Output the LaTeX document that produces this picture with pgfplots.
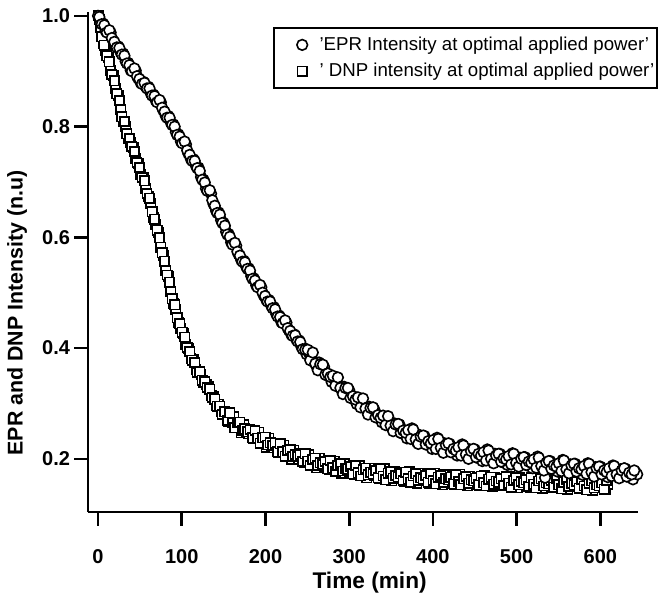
\documentclass[border=0pt]{standalone}
\usepackage{fontspec}
\setmainfont{Liberation Sans}
\usepackage{pgfplots}
\pgfplotsset{compat=1.18}
\begin{document}
\begin{tikzpicture}
\begin{axis}[
  at={(0,0)}, anchor=south west,
  scale only axis, width=412.5pt, height=375pt,
  xmin=-12, xmax=645, ymin=0.104, ymax=1.007,
  axis x line*=bottom, axis y line*=left,
  axis line style={line width=2pt,-},
  major tick length=-10.5pt,
  tick style={black,line width=2pt},
  xtick={0,100,200,300,400,500,600},
  ytick={0.2,0.4,0.6,0.8,1.0},
  yticklabel style={/pgf/number format/fixed, /pgf/number format/fixed zerofill, /pgf/number format/precision=1, xshift=-10pt},
  /pgf/number format/assume math mode=true,
  tick label style={font=\bfseries\fontsize{15}{15}\selectfont},
  xticklabel style={yshift=-24.5pt},
  xlabel={Time (min)},
  ylabel={EPR and DNP Intensity (n.u)},
  xlabel style={font=\bfseries\fontsize{17}{17}\selectfont, at={(axis description cs:0.512,-0.142)}, anchor=center},
  ylabel style={font=\bfseries\fontsize{16}{16}\selectfont, at={(axis description cs:-0.129,0.398)}, anchor=center},
  clip mode=individual,
  reverse legend,
  legend cell align=left,
  legend image code/.code={\path[draw=none] (-21pt,0pt) -- (11pt,0pt); \draw[#1] plot coordinates {(0pt,0pt)};},
  legend style={at={(axis description cs:1.036,0.97)}, anchor=north east, draw=black, line width=1.2pt,
    inner xsep=0pt, inner ysep=5pt,
    font=\fontsize{14}{16}\selectfont, row sep=4pt},
]
\addplot[only marks, mark=square*, mark size=3.5pt, mark options={fill=white, draw=black, line width=1.2pt}] coordinates {
(0,1.000)(3,0.979)(6,0.950)(9,0.937)(12,0.925)(15,0.902)(18,0.892)(21,0.868)(24,0.856)(27,0.831)(30,0.810)(33,0.801)(36,0.779)(39,0.771)(42,0.762)(45,0.742)(48,0.733)(51,0.713)(54,0.708)(57,0.689)(60,0.674)(63,0.661)(66,0.636)(69,0.623)(72,0.609)(75,0.582)(78,0.567)(81,0.540)(84,0.529)(87,0.503)(90,0.481)(93,0.469)(96,0.446)(99,0.436)(102,0.427)(105,0.407)(108,0.400)(111,0.382)(114,0.380)(117,0.362)(120,0.355)(123,0.352)(126,0.337)(129,0.334)(132,0.330)(135,0.315)(138,0.312)(141,0.297)(144,0.299)(147,0.285)(150,0.280)(153,0.284)(156,0.268)(159,0.277)(162,0.276)(165,0.257)(168,0.264)(171,0.247)(174,0.262)(177,0.250)(180,0.245)(183,0.252)(186,0.236)(189,0.243)(192,0.248)(195,0.230)(198,0.238)(201,0.221)(204,0.237)(207,0.224)(210,0.220)(213,0.228)(216,0.211)(219,0.219)(222,0.225)(225,0.207)(228,0.215)(231,0.199)(234,0.216)(237,0.204)(240,0.200)(243,0.209)(246,0.193)(249,0.202)(252,0.208)(255,0.191)(258,0.199)(261,0.184)(264,0.201)(267,0.190)(270,0.187)(273,0.196)(276,0.180)(279,0.189)(282,0.196)(285,0.180)(288,0.189)(291,0.174)(294,0.191)(297,0.180)(300,0.177)(303,0.186)(306,0.172)(309,0.181)(312,0.188)(315,0.171)(318,0.181)(321,0.166)(324,0.183)(327,0.173)(330,0.170)(333,0.179)(336,0.165)(339,0.174)(342,0.182)(345,0.165)(348,0.174)(351,0.160)(354,0.177)(357,0.167)(360,0.164)(363,0.174)(366,0.159)(369,0.169)(372,0.177)(375,0.161)(378,0.170)(381,0.156)(384,0.174)(387,0.163)(390,0.161)(393,0.171)(396,0.156)(399,0.166)(402,0.174)(405,0.158)(408,0.167)(411,0.153)(414,0.171)(417,0.161)(420,0.159)(423,0.168)(426,0.154)(429,0.164)(432,0.172)(435,0.155)(438,0.165)(441,0.151)(444,0.169)(447,0.159)(450,0.157)(453,0.166)(456,0.152)(459,0.162)(462,0.170)(465,0.154)(468,0.164)(471,0.150)(474,0.167)(477,0.157)(480,0.155)(483,0.165)(486,0.151)(489,0.161)(492,0.168)(495,0.152)(498,0.162)(501,0.148)(504,0.166)(507,0.156)(510,0.154)(513,0.163)(516,0.149)(519,0.159)(522,0.167)(525,0.151)(528,0.161)(531,0.147)(534,0.164)(537,0.154)(540,0.152)(543,0.162)(546,0.148)(549,0.158)(552,0.165)(555,0.149)(558,0.159)(561,0.145)(564,0.163)(567,0.153)(570,0.150)(573,0.160)(576,0.146)(579,0.156)(582,0.163)(585,0.147)(588,0.157)(591,0.143)(594,0.160)(597,0.150)(600,0.148)(603,0.158)(606,0.144)(609,0.154)
(1.5,0.993)(4.5,0.962)(7.5,0.947)(10.5,0.928)(13.5,0.917)(16.5,0.894)(19.5,0.883)(22.5,0.859)(25.5,0.847)(28.5,0.818)(31.5,0.809)(34.5,0.787)(37.5,0.778)(40.5,0.764)(43.5,0.755)(46.5,0.735)(49.5,0.726)(52.5,0.708)(55.5,0.702)(58.5,0.679)(61.5,0.671)(64.5,0.646)(67.5,0.633)(70.5,0.613)(73.5,0.599)(76.5,0.572)(79.5,0.557)(82.5,0.532)(85.5,0.519)(88.5,0.489)(91.5,0.478)(94.5,0.455)(97.5,0.444)(100.5,0.429)(103.5,0.420)(106.5,0.401)(109.5,0.394)(112.5,0.378)(115.5,0.374)(118.5,0.356)(121.5,0.357)(124.5,0.342)(127.5,0.339)(130.5,0.329)(133.5,0.326)(136.5,0.311)(139.5,0.308)(142.5,0.295)(145.5,0.295)(148.5,0.280)
(151.5,0.285)(154.5,0.270)(157.5,0.283)(160.5,0.265)(163.5,0.256)(166.5,0.265)(169.5,0.266)(172.5,0.251)(175.5,0.254)(178.5,0.249)(181.5,0.253)(184.5,0.238)(187.5,0.251)(190.5,0.237)(193.5,0.228)(196.5,0.238)(199.5,0.239)(202.5,0.225)(205.5,0.229)(208.5,0.224)(211.5,0.228)(214.5,0.213)(217.5,0.227)(220.5,0.213)(223.5,0.205)(226.5,0.215)(229.5,0.217)(232.5,0.204)(235.5,0.208)(238.5,0.204)(241.5,0.208)(244.5,0.195)(247.5,0.209)(250.5,0.196)(253.5,0.188)(256.5,0.199)(259.5,0.201)(262.5,0.188)(265.5,0.193)(268.5,0.190)(271.5,0.195)(274.5,0.182)(277.5,0.197)(280.5,0.184)(283.5,0.177)(286.5,0.188)(289.5,0.191)(292.5,0.178)(295.5,0.183)(298.5,0.181)(301.5,0.186)(304.5,0.173)(307.5,0.188)(310.5,0.175)(313.5,0.169)(316.5,0.180)(319.5,0.183)(322.5,0.171)(325.5,0.176)(328.5,0.173)(331.5,0.179)(334.5,0.166)(337.5,0.182)(340.5,0.169)(343.5,0.162)(346.5,0.174)(349.5,0.177)(352.5,0.165)(355.5,0.170)(358.5,0.167)(361.5,0.173)(364.5,0.161)(367.5,0.176)(370.5,0.164)(373.5,0.158)(376.5,0.169)(379.5,0.173)(382.5,0.161)(385.5,0.166)(388.5,0.164)(391.5,0.170)(394.5,0.158)(397.5,0.173)(400.5,0.161)(403.5,0.155)(406.5,0.167)(409.5,0.170)(412.5,0.158)(415.5,0.164)(418.5,0.162)(421.5,0.167)(424.5,0.155)(427.5,0.171)(430.5,0.159)(433.5,0.153)(436.5,0.164)(439.5,0.168)(442.5,0.156)(445.5,0.162)(448.5,0.160)(451.5,0.165)(454.5,0.153)(457.5,0.169)(460.5,0.157)(463.5,0.151)(466.5,0.163)(469.5,0.167)(472.5,0.154)(475.5,0.160)(478.5,0.158)(481.5,0.164)(484.5,0.152)(487.5,0.168)(490.5,0.156)(493.5,0.149)(496.5,0.161)(499.5,0.165)(502.5,0.153)(505.5,0.159)(508.5,0.157)(511.5,0.162)(514.5,0.150)(517.5,0.166)(520.5,0.154)(523.5,0.148)(526.5,0.160)(529.5,0.164)(532.5,0.151)(535.5,0.157)(538.5,0.155)(541.5,0.161)(544.5,0.149)(547.5,0.165)(550.5,0.153)(553.5,0.146)(556.5,0.158)(559.5,0.162)(562.5,0.150)(565.5,0.156)(568.5,0.153)(571.5,0.159)(574.5,0.147)(577.5,0.163)(580.5,0.151)(583.5,0.144)(586.5,0.156)(589.5,0.160)(592.5,0.148)(595.5,0.153)(598.5,0.151)(601.5,0.157)(604.5,0.145)(607.5,0.161)
};
\addlegendentry{' DNP intensity at optimal applied power'}
\addplot[only marks, mark=*, mark size=4pt, mark options={fill=white, draw=black, line width=1.2pt}] coordinates {
(0,1.000)(3,0.990)(6,0.986)(9,0.973)(12,0.972)(15,0.970)(18,0.955)(21,0.946)(24,0.945)(27,0.934)(30,0.932)(33,0.918)(36,0.915)(39,0.902)(42,0.903)(45,0.901)(48,0.887)(51,0.879)(54,0.881)(57,0.872)(60,0.872)(63,0.860)(66,0.858)(69,0.847)(72,0.847)(75,0.844)(78,0.829)(81,0.819)(84,0.819)(87,0.807)(90,0.804)(93,0.790)(96,0.786)(99,0.773)(102,0.772)(105,0.768)(108,0.751)(111,0.741)(114,0.741)(117,0.729)(120,0.726)(123,0.709)(126,0.704)(129,0.688)(132,0.685)(135,0.679)(138,0.660)(141,0.648)(144,0.645)(147,0.631)(150,0.626)(153,0.610)(156,0.606)(159,0.591)(162,0.589)(165,0.585)(168,0.569)(171,0.559)(174,0.558)(177,0.547)(180,0.544)(183,0.530)(186,0.526)(189,0.513)(192,0.513)(195,0.510)(198,0.495)(201,0.487)(204,0.487)(207,0.476)(210,0.474)(213,0.461)(216,0.459)(219,0.447)(222,0.448)(225,0.446)(228,0.432)(231,0.424)(234,0.425)(237,0.415)(240,0.414)(243,0.402)(246,0.400)(249,0.389)(252,0.391)(255,0.392)(258,0.375)(261,0.367)(264,0.374)(267,0.363)(270,0.366)(273,0.351)(276,0.352)(279,0.339)(282,0.345)(285,0.347)(288,0.331)(291,0.324)(294,0.330)(297,0.320)(300,0.324)(303,0.310)(306,0.312)(309,0.299)(312,0.306)(315,0.308)(318,0.293)(321,0.287)(324,0.294)(327,0.285)(330,0.289)(333,0.275)(336,0.278)(339,0.266)(342,0.273)(345,0.276)(348,0.262)(351,0.256)(354,0.264)(357,0.255)(360,0.262)(363,0.246)(366,0.251)(369,0.237)(372,0.249)(375,0.255)(378,0.236)(381,0.230)(384,0.243)(387,0.233)(390,0.241)(393,0.226)(396,0.232)(399,0.218)(402,0.231)(405,0.238)(408,0.220)(411,0.215)(414,0.228)(417,0.218)(420,0.227)(423,0.212)(426,0.219)(429,0.206)(432,0.219)(435,0.226)(438,0.209)(441,0.204)(444,0.217)(447,0.208)(450,0.217)(453,0.202)(456,0.209)(459,0.196)(462,0.210)(465,0.217)(468,0.200)(471,0.195)(474,0.209)(477,0.200)(480,0.209)(483,0.194)(486,0.202)(489,0.189)(492,0.203)(495,0.210)(498,0.193)(501,0.189)(504,0.202)(507,0.194)(510,0.203)(513,0.188)(516,0.196)(519,0.183)(522,0.197)(525,0.204)(528,0.187)(531,0.182)(534,0.166)(537,0.187)(540,0.196)(543,0.182)(546,0.189)(549,0.177)(552,0.190)(555,0.198)(558,0.181)(561,0.177)(564,0.190)(567,0.182)(570,0.191)(573,0.176)(576,0.184)(579,0.171)(582,0.185)(585,0.192)(588,0.176)(591,0.171)(594,0.185)(597,0.176)(600,0.186)(603,0.172)(606,0.179)(609,0.167)(612,0.181)(615,0.188)(618,0.172)(621,0.168)(624,0.181)(627,0.173)(630,0.182)(633,0.168)(636,0.175)(639,0.163)(642,0.176)(644,0.172)
(1.5,0.998)(4.5,0.985)(7.5,0.983)(10.5,0.970)(13.5,0.974)(16.5,0.960)(19.5,0.953)(22.5,0.943)(25.5,0.942)(28.5,0.930)(31.5,0.928)(34.5,0.914)(37.5,0.911)(40.5,0.900)(43.5,0.905)(46.5,0.891)(49.5,0.886)(52.5,0.877)(55.5,0.879)(58.5,0.869)(61.5,0.869)(64.5,0.856)(67.5,0.855)(70.5,0.844)(73.5,0.848)(76.5,0.834)(79.5,0.827)(82.5,0.816)(85.5,0.816)(88.5,0.803)(91.5,0.800)(94.5,0.785)(97.5,0.782)(100.5,0.770)(103.5,0.773)(106.5,0.757)(109.5,0.749)(112.5,0.738)(115.5,0.738)(118.5,0.725)(121.5,0.720)(124.5,0.704)(127.5,0.699)(130.5,0.684)(133.5,0.685)(136.5,0.667)(139.5,0.657)(142.5,0.644)(145.5,0.641)(148.5,0.626)(151.5,0.621)(154.5,0.605)(157.5,0.601)(160.5,0.587)(163.5,0.590)(166.5,0.574)(169.5,0.567)(172.5,0.556)(175.5,0.555)(178.5,0.543)(181.5,0.540)(184.5,0.525)(187.5,0.522)(190.5,0.510)(193.5,0.514)(196.5,0.500)(199.5,0.494)(202.5,0.484)(205.5,0.484)(208.5,0.472)(211.5,0.470)(214.5,0.457)(217.5,0.456)(220.5,0.445)(223.5,0.450)(226.5,0.436)(229.5,0.431)(232.5,0.422)(235.5,0.423)(238.5,0.412)(241.5,0.411)(244.5,0.398)(247.5,0.397)
(250.5,0.397)(253.5,0.378)(256.5,0.392)(259.5,0.372)(262.5,0.360)(265.5,0.371)(268.5,0.370)(271.5,0.352)(274.5,0.354)(277.5,0.348)(280.5,0.350)(283.5,0.332)(286.5,0.347)(289.5,0.328)(292.5,0.317)(295.5,0.328)(298.5,0.328)(301.5,0.310)(304.5,0.313)(307.5,0.307)(310.5,0.311)(313.5,0.293)(316.5,0.309)(319.5,0.291)(322.5,0.280)(325.5,0.292)(328.5,0.293)(331.5,0.275)(334.5,0.279)(337.5,0.274)(340.5,0.278)(343.5,0.261)(346.5,0.277)(349.5,0.260)(352.5,0.250)(355.5,0.262)(358.5,0.263)(361.5,0.247)(364.5,0.251)(367.5,0.247)(370.5,0.252)(373.5,0.236)(376.5,0.253)(379.5,0.235)(382.5,0.227)(385.5,0.240)(388.5,0.242)(391.5,0.226)(394.5,0.232)(397.5,0.228)(400.5,0.234)(403.5,0.218)(406.5,0.236)(409.5,0.220)(412.5,0.211)(415.5,0.225)(418.5,0.228)(421.5,0.212)(424.5,0.218)(427.5,0.215)(430.5,0.221)(433.5,0.206)(436.5,0.224)(439.5,0.208)(442.5,0.200)(445.5,0.214)(448.5,0.218)(451.5,0.203)(454.5,0.209)(457.5,0.206)(460.5,0.212)(463.5,0.197)(466.5,0.215)(469.5,0.200)(472.5,0.192)(475.5,0.206)(478.5,0.209)(481.5,0.195)(484.5,0.201)(487.5,0.199)(490.5,0.205)(493.5,0.190)(496.5,0.209)(499.5,0.193)(502.5,0.186)(505.5,0.200)(508.5,0.203)(511.5,0.189)(514.5,0.195)(517.5,0.193)(520.5,0.199)(523.5,0.184)(526.5,0.202)(529.5,0.187)(532.5,0.179)(535.5,0.193)(538.5,0.196)(541.5,0.182)(544.5,0.188)(547.5,0.186)(550.5,0.192)(553.5,0.178)(556.5,0.197)(559.5,0.181)(562.5,0.174)(565.5,0.188)(568.5,0.191)(571.5,0.177)(574.5,0.183)(577.5,0.181)(580.5,0.187)(583.5,0.173)(586.5,0.191)(589.5,0.176)(592.5,0.168)(595.5,0.183)(598.5,0.186)(601.5,0.172)(604.5,0.179)(607.5,0.176)(610.5,0.183)(613.5,0.169)(616.5,0.187)(619.5,0.172)(622.5,0.165)(625.5,0.179)(628.5,0.183)(631.5,0.168)(634.5,0.175)(637.5,0.172)(640.5,0.179)
};
\addlegendentry{'EPR Intensity at optimal applied power'}
\end{axis}
\pgfresetboundingbox
\path (-66pt,-68.25pt) rectangle (431.25pt,384pt);
\end{tikzpicture}
\end{document}
